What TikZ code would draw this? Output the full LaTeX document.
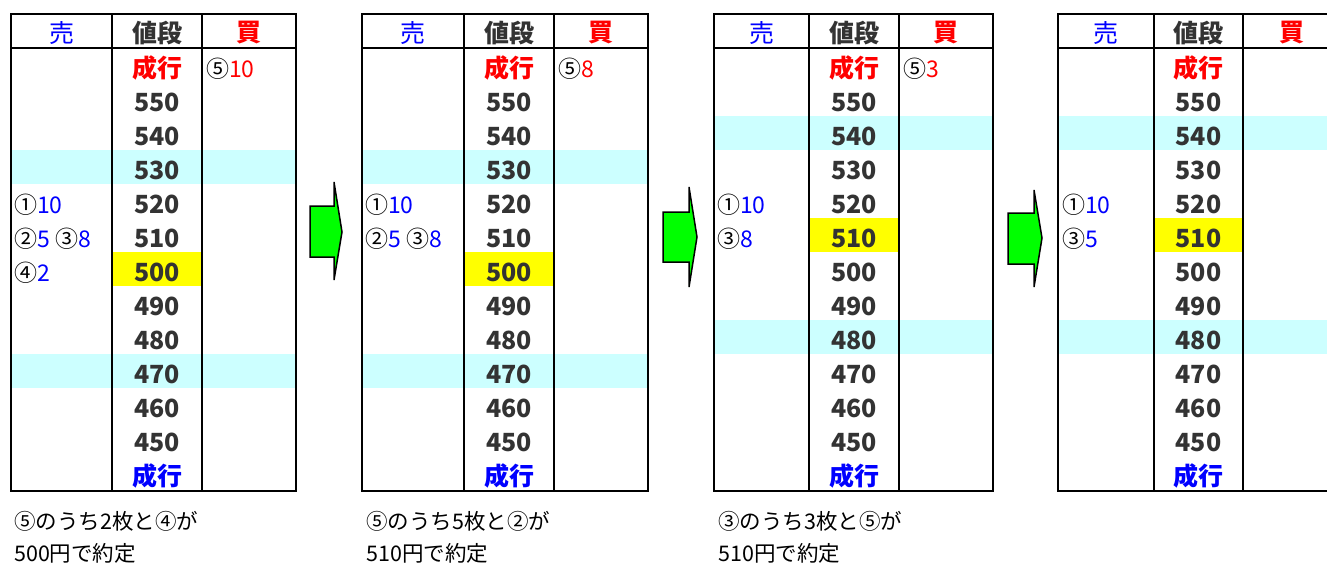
\documentclass[tikz,border=0pt]{standalone}
\usepackage{fontspec}
\setmainfont{Noto Sans CJK JP}
\definecolor{bandcyan}{HTML}{CCFFFF}
\definecolor{hlyellow}{HTML}{FFFF00}
\definecolor{sellblue}{HTML}{0000FF}
\definecolor{buyred}{HTML}{FF0000}
\definecolor{pricegray}{HTML}{333333}
\definecolor{arrowgreen}{HTML}{00FF00}
\tikzset{
  gridline/.style={draw=black,line width=2pt},
  hdr/.style={font=\fontsize{25}{25}\selectfont\bfseries,inner sep=0pt},
  hdrlight/.style={font=\fontsize{25}{25}\selectfont,inner sep=0pt},
  price/.style={font=\fontsize{25}{25}\selectfont\bfseries,text=pricegray,inner sep=0pt},
  entry/.style={font=\fontsize{23}{23}\selectfont,anchor=west,inner sep=0pt},
  caption/.style={font=\fontsize{21.5}{21.5}\selectfont,anchor=west,inner sep=0pt},
  blockarrow/.style={fill=arrowgreen,draw=black,line width=1.5pt,line join=miter},
}
% #1 id, #2 left, #3 col1, #4 col2, #5 right, #6 band a, #7 band b, #8 yellow row
\newcommand{\orderpanel}[8]{%
  \fill[bandcyan] (#2,{48+34*#6}) rectangle (#5,{82+34*#6});
  \fill[bandcyan] (#2,{48+34*#7}) rectangle (#5,{82+34*#7});
  \fill[hlyellow] (#3,{48+34*#8}) rectangle (#4,{82+34*#8});
  \draw[gridline] (#2,14) rectangle (#5,491);
  \draw[gridline] (#2,48) -- (#5,48);
  \draw[gridline] (#3,14) -- (#3,491);
  \draw[gridline] (#4,14) -- (#4,491);
  \node[hdrlight,text=sellblue] (#1hs) at ({(#2+#3)/2},33) {売};
  \node[hdr,text=pricegray] (#1hp) at ({(#3+#4)/2},33) {値段};
  \node[hdr,text=buyred] (#1hb) at ({(#4+#5)/2},33) {買};
  \node[hdr,text=buyred] (#1p0) at ({(#3+#4)/2},68) {成行};
  \foreach \i in {1,...,11}{%
    \pgfmathtruncatemacro{\pv}{560-10*\i}%
    \node[price] (#1p\i) at ({(#3+#4)/2},{68+34*\i}) {\pv};
  }
  \node[hdr,text=sellblue] (#1p12) at ({(#3+#4)/2},476) {成行};
}
\begin{document}
\begin{tikzpicture}[x=1pt,y=-1pt]
\clip (0,0) rectangle (1327,565);
\fill[white] (0,0) rectangle (1327,565);
% panel 1
\orderpanel{a}{11}{112}{202}{296}{3}{9}{6}
\node[entry] (a520) at (14,205) {①\textcolor{sellblue}{10}};
\node[entry] (a510) at (14,239) {②\textcolor{sellblue}{5} ③\textcolor{sellblue}{8}};
\node[entry] (a500) at (14,273) {④\textcolor{sellblue}{2}};
\node[entry] (abuy) at (206,69) {⑤\textcolor{buyred}{10}};
\node[caption] (acap1) at (14,521) {⑤のうち2枚と④が};
\node[caption] (acap2) at (14,553) {500円で約定};
% panel 2
\orderpanel{b}{362}{464}{554}{648}{3}{9}{6}
\node[entry] (b520) at (365,205) {①\textcolor{sellblue}{10}};
\node[entry] (b510) at (365,239) {②\textcolor{sellblue}{5} ③\textcolor{sellblue}{8}};
\node[entry] (bbuy) at (558,69) {⑤\textcolor{buyred}{8}};
\node[caption] (bcap1) at (366,521) {⑤のうち5枚と②が};
\node[caption] (bcap2) at (366,553) {510円で約定};
% panel 3
\orderpanel{c}{714}{809}{899}{993}{2}{8}{5}
\node[entry] (c520) at (717,205) {①\textcolor{sellblue}{10}};
\node[entry] (c510) at (717,239) {③\textcolor{sellblue}{8}};
\node[entry] (cbuy) at (903,69) {⑤\textcolor{buyred}{3}};
\node[caption] (ccap1) at (718,521) {③のうち3枚と⑤が};
\node[caption] (ccap2) at (718,553) {510円で約定};
% panel 4
\orderpanel{d}{1058}{1154}{1243}{1340}{2}{8}{5}
\node[entry] (d520) at (1062,205) {①\textcolor{sellblue}{10}};
\node[entry] (d510) at (1062,239) {③\textcolor{sellblue}{5}};
% arrows
\draw[blockarrow] (310,206) -- (334,206) -- (334,182) -- (342,232) -- (334,280) -- (334,257) -- (310,257) -- cycle;
\draw[blockarrow] (663,212) -- (689,212) -- (689,187) -- (697,237) -- (689,287) -- (689,262) -- (663,262) -- cycle;
\draw[blockarrow] (1008,213) -- (1034,213) -- (1034,190) -- (1042,238) -- (1034,287) -- (1034,264) -- (1008,264) -- cycle;
\end{tikzpicture}
\end{document}
